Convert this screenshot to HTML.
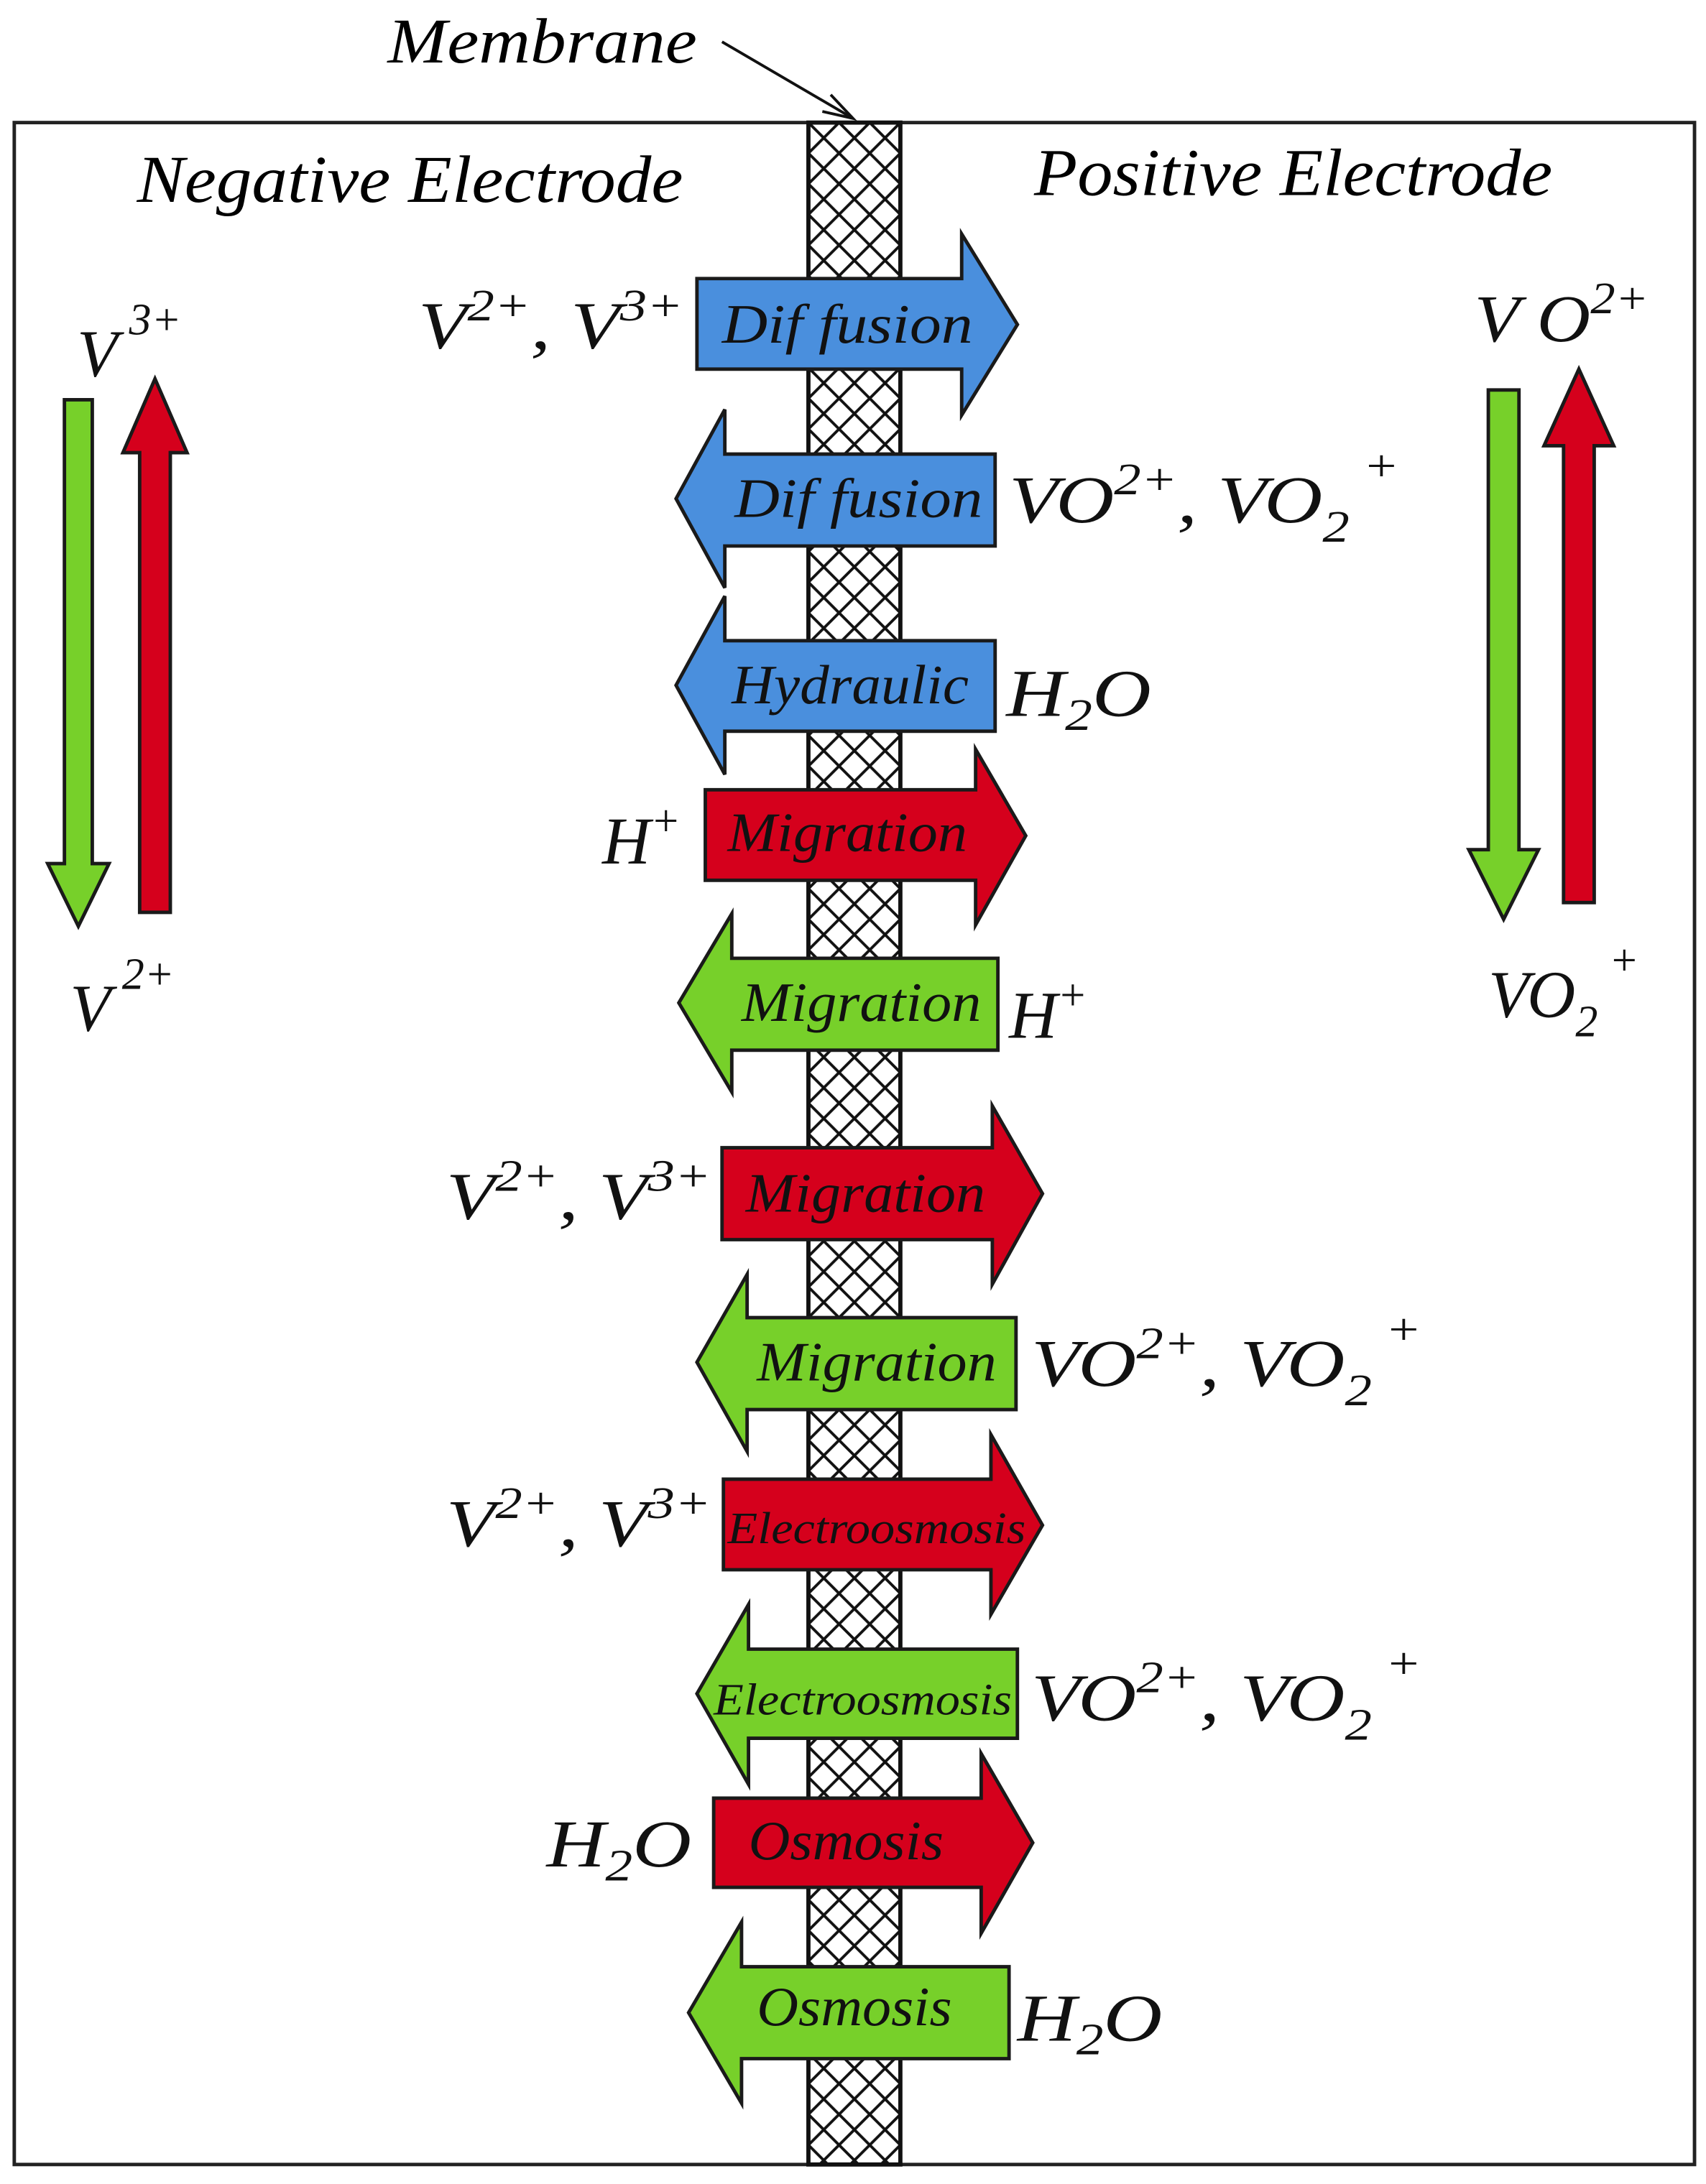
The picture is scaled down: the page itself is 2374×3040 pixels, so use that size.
<!DOCTYPE html>
<html><head><style>html,body{margin:0;padding:0;background:#fff}svg{display:block}</style></head>
<body>
<svg width="2374" height="3040" viewBox="0 0 1224 1568" xmlns="http://www.w3.org/2000/svg" font-family="Liberation Serif, serif" font-style="italic">
<defs>
<pattern id="h" width="22" height="22" patternUnits="userSpaceOnUse" x="580" y="88">
<rect width="22" height="22" fill="#fff"/>
<path d="M0,0L22,22M22,0L0,22M-11,11L11,33M11,-11L33,11M-11,11L11,-11M11,33L33,11" stroke="#111" stroke-width="2"/>
</pattern>
</defs>
<rect x="10" y="88" width="1206" height="1466" fill="#fff" stroke="#222" stroke-width="2.5"/>
<rect x="580" y="88" width="66" height="1466" fill="url(#h)" stroke="#111" stroke-width="3"/>
<text x="278" y="45" font-size="46" textLength="222" lengthAdjust="spacingAndGlyphs">Membrane</text>
<path d="M518,30L612,85" stroke="#111" stroke-width="2"/>
<path d="M596,68L612,85L590,80" fill="none" stroke="#111" stroke-width="2"/>
<text x="98" y="145" font-size="48" textLength="392" lengthAdjust="spacingAndGlyphs">Negative Electrode</text>
<text x="742" y="140" font-size="48" textLength="372" lengthAdjust="spacingAndGlyphs">Positive Electrode</text>
<g stroke="#1a1a1a" stroke-width="2.5">
<path d="M500,200H690V168L730,233L690,298V265H500Z" fill="#4a8fdd"/>
<path d="M714,326H520V294L485,358L520,422V392H714Z" fill="#4a8fdd"/>
<path d="M714,460H520V428L485,492L520,556V525H714Z" fill="#4a8fdd"/>
<path d="M506,567H700V538L736,600L700,664V632H506Z" fill="#d5001c"/>
<path d="M716,688H525V656L487,720L525,784V754H716Z" fill="#77d02a"/>
<path d="M518,824H712V794L748,857L712,922V890H518Z" fill="#d5001c"/>
<path d="M729,946H536V915L500,978L536,1042V1012H729Z" fill="#77d02a"/>
<path d="M519,1062H711V1030L748,1095L711,1159V1127H519Z" fill="#d5001c"/>
<path d="M730,1184H537V1152L500,1216L537,1281V1248H730Z" fill="#77d02a"/>
<path d="M512,1291H704V1259L741,1323L704,1388V1355H512Z" fill="#d5001c"/>
<path d="M724,1412H532V1380L494,1445L532,1510V1478H724Z" fill="#77d02a"/>
<path d="M46,287H66V620H78L56,665L34,620H46Z" fill="#77d02a"/>
<path d="M100,655H122V325H134L111,272L88,325H100Z" fill="#d5001c"/>
<path d="M1068,280H1090V610H1104L1079,660L1054,610H1068Z" fill="#77d02a"/>
<path d="M1122,648H1144V320H1158L1133,265L1108,320H1122Z" fill="#d5001c"/>
</g>
<g font-size="40" fill="#111" lengthAdjust="spacingAndGlyphs">
<text x="518" y="246" textLength="180" lengthAdjust="spacingAndGlyphs">Dif fusion</text>
<text x="527" y="371" textLength="178" lengthAdjust="spacingAndGlyphs">Dif fusion</text>
<text x="525" y="505" textLength="170" lengthAdjust="spacingAndGlyphs">Hydraulic</text>
<text x="522" y="611" textLength="172" lengthAdjust="spacingAndGlyphs">Migration</text>
<text x="532" y="733" textLength="172" lengthAdjust="spacingAndGlyphs">Migration</text>
<text x="535" y="870" textLength="172" lengthAdjust="spacingAndGlyphs">Migration</text>
<text x="543" y="991" textLength="172" lengthAdjust="spacingAndGlyphs">Migration</text>
<text x="522" y="1108" font-size="32" textLength="214" lengthAdjust="spacingAndGlyphs">Electroosmosis</text>
<text x="512" y="1231" font-size="32" textLength="214" lengthAdjust="spacingAndGlyphs">Electroosmosis</text>
<text x="537" y="1335" textLength="140" lengthAdjust="spacingAndGlyphs">Osmosis</text>
<text x="543" y="1454" textLength="140" lengthAdjust="spacingAndGlyphs">Osmosis</text>
</g>
<g font-size="48" fill="#111">
<text x="300" y="250" textLength="190" lengthAdjust="spacingAndGlyphs">V<tspan font-size="32" dy="-20">2+</tspan><tspan dy="20">, V</tspan><tspan font-size="32" dy="-20">3+</tspan></text>
<text x="724" y="375" textLength="280" lengthAdjust="spacingAndGlyphs">VO<tspan font-size="32" dy="-20">2+</tspan><tspan dy="20">, VO</tspan><tspan font-size="32" dy="14">2</tspan><tspan font-size="32" dy="-44"> +</tspan></text>
<text x="722" y="514" textLength="104" lengthAdjust="spacingAndGlyphs">H<tspan font-size="32" dy="10">2</tspan><tspan dy="-10">O</tspan></text>
<text x="432" y="620">H<tspan font-size="32" dy="-20">+</tspan></text>
<text x="724" y="745">H<tspan font-size="32" dy="-20">+</tspan></text>
<text x="320" y="875" textLength="190" lengthAdjust="spacingAndGlyphs">V<tspan font-size="32" dy="-20">2+</tspan><tspan dy="20">, V</tspan><tspan font-size="32" dy="-20">3+</tspan></text>
<text x="740" y="995" textLength="280" lengthAdjust="spacingAndGlyphs">VO<tspan font-size="32" dy="-20">2+</tspan><tspan dy="20">, VO</tspan><tspan font-size="32" dy="14">2</tspan><tspan font-size="32" dy="-44"> +</tspan></text>
<text x="320" y="1110" textLength="190" lengthAdjust="spacingAndGlyphs">V<tspan font-size="32" dy="-20">2+</tspan><tspan dy="20">, V</tspan><tspan font-size="32" dy="-20">3+</tspan></text>
<text x="740" y="1235" textLength="280" lengthAdjust="spacingAndGlyphs">VO<tspan font-size="32" dy="-20">2+</tspan><tspan dy="20">, VO</tspan><tspan font-size="32" dy="14">2</tspan><tspan font-size="32" dy="-44"> +</tspan></text>
<text x="392" y="1340" textLength="104" lengthAdjust="spacingAndGlyphs">H<tspan font-size="32" dy="10">2</tspan><tspan dy="-10">O</tspan></text>
<text x="730" y="1465" textLength="104" lengthAdjust="spacingAndGlyphs">H<tspan font-size="32" dy="10">2</tspan><tspan dy="-10">O</tspan></text>
<text x="55" y="270">V<tspan font-size="32" dx="8" dy="-30">3+</tspan></text>
<text x="50" y="740">V<tspan font-size="32" dx="8" dy="-30">2+</tspan></text>
<text x="1058" y="245" textLength="125" lengthAdjust="spacingAndGlyphs">V O<tspan font-size="32" dy="-20">2+</tspan></text>
<text x="1068" y="730">VO<tspan font-size="32" dy="14">2</tspan><tspan font-size="32" dy="-44"> +</tspan></text>
</g>
</svg>
</body></html>
